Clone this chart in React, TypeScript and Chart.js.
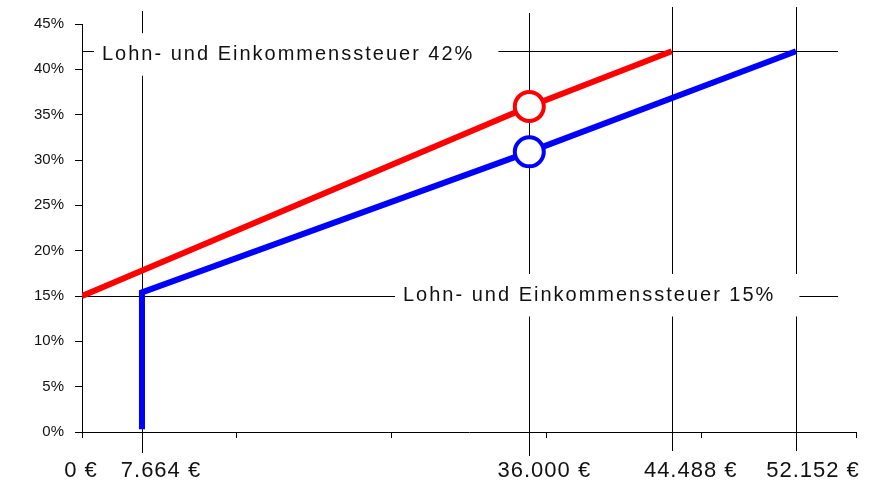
import React, { useEffect, useRef } from 'react';
import { Chart, registerables, LinearScale } from 'chart.js';

// ---- Data ----
const redIncome = [0, 36000, 44488];
const redRate = [15, 35.9, 42];

const blueIncome = [7664, 7664, 36000, 52152];
const blueRate = [0.3, 15.4, 30.9, 42];

const xLabelValues = [0, 7664, 36000, 44488, 52152];
const xLabelTexts = ['0 €', '7.664 €', '36.000 €', '44.488 €', '52.152 €'];

const guideIncome = [7664, 36000, 44488, 52152];

const rateLevels = [42, 15];
const rateLabels = ['Lohn- und Einkommenssteuer 42%', 'Lohn- und Einkommenssteuer 15%'];

const yMin = 0;
const yMax = 45;
const yStep = 5;

// ---- Axis layout (piecewise x-axis as in the original drawing) ----
const xBreakValues = [0, 7664, 36000, 44488, 52152, 56000];
const xBreakFractions = [0, 0.0775, 0.5779, 0.7619, 0.9225, 1];

function toFraction(v: number): number {
  const n = xBreakValues.length;
  let i = 0;
  while (i < n - 2 && v > xBreakValues[i + 1]) i++;
  const v0 = xBreakValues[i], v1 = xBreakValues[i + 1];
  const f0 = xBreakFractions[i], f1 = xBreakFractions[i + 1];
  return f0 + ((v - v0) / (v1 - v0)) * (f1 - f0);
}
function fromFraction(f: number): number {
  const n = xBreakFractions.length;
  let i = 0;
  while (i < n - 2 && f > xBreakFractions[i + 1]) i++;
  const v0 = xBreakValues[i], v1 = xBreakValues[i + 1];
  const f0 = xBreakFractions[i], f1 = xBreakFractions[i + 1];
  return v0 + ((f - f0) / (f1 - f0)) * (v1 - v0);
}

class PiecewiseScale extends LinearScale {
  static id = 'piecewise';
  static defaults = { ...(LinearScale as any).defaults };
  getPixelForValue(value: any) {
    if (value === null || value === undefined || isNaN(value)) return NaN;
    return (this as any).getPixelForDecimal(toFraction(value));
  }
  getValueForPixel(pixel: number) {
    return fromFraction((this as any).getDecimalForPixel(pixel));
  }
  buildTicks() {
    super.buildTicks();
    const count = 5;
    const ticks: any[] = [];
    for (let i = 0; i <= count; i++) ticks.push({ value: fromFraction(i / count) });
    return ticks;
  }
}

Chart.register(...registerables, PiecewiseScale as any);

const FONT = "'Liberation Sans', Arial, sans-serif";

const guideStyle = {
  tops: [11, 13, 7, 7],
  bottoms: [453, 456, 451, 451],
  hRightInset: 18,
  labelLeftOffsets: [20, 321],
  labelDy: [3, -1],
  xLabelOffsets: [-1, 19, 15, 19, 17],
  xLabelBaseline: 477,
};

const guidePlugin = {
  id: 'taxGuides',
  beforeDatasetsDraw(chart: any) {
    const { ctx, chartArea, scales } = chart;
    const x = scales.x, y = scales.y;
    ctx.save();
    ctx.strokeStyle = '#000';
    ctx.lineWidth = 1;
    guideIncome.forEach((v, i) => {
      const px = Math.round(x.getPixelForValue(v)) + 0.5;
      ctx.beginPath();
      ctx.moveTo(px, guideStyle.tops[i]);
      ctx.lineTo(px, guideStyle.bottoms[i]);
      ctx.stroke();
    });
    rateLevels.forEach((lvl) => {
      const py = Math.round(y.getPixelForValue(lvl)) + 0.5;
      ctx.beginPath();
      ctx.moveTo(chartArea.left, py);
      ctx.lineTo(chartArea.right - guideStyle.hRightInset, py);
      ctx.stroke();
    });
    ctx.restore();
  },
  afterDatasetsDraw(chart: any) {
    const { ctx, chartArea, scales } = chart;
    const x = scales.x, y = scales.y;
    ctx.save();
    ctx.font = `20px ${FONT}`;
    (ctx as any).letterSpacing = '2px';
    ctx.textBaseline = 'middle';
    ctx.textAlign = 'left';
    rateLevels.forEach((lvl, i) => {
      const cy = y.getPixelForValue(lvl) + guideStyle.labelDy[i];
      const left = chartArea.left + guideStyle.labelLeftOffsets[i];
      const w = ctx.measureText(rateLabels[i]).width;
      ctx.fillStyle = '#fff';
      ctx.fillRect(left - 8, cy - 21, w + 32, 42.5);
      ctx.fillStyle = '#111';
      ctx.fillText(rateLabels[i], left, cy);
    });
    ctx.font = `22px ${FONT}`;
    (ctx as any).letterSpacing = '1px';
    ctx.textAlign = 'center';
    ctx.textBaseline = 'alphabetic';
    ctx.fillStyle = '#111';
    xLabelValues.forEach((v, i) => {
      const px = x.getPixelForValue(v) + guideStyle.xLabelOffsets[i];
      ctx.fillText(xLabelTexts[i], px, guideStyle.xLabelBaseline);
    });
    ctx.restore();
  },
};

export default function App() {
  const canvasRef = useRef<HTMLCanvasElement | null>(null);

  useEffect(() => {
    const canvas = canvasRef.current;
    if (!canvas) return;
    const chart = new Chart(canvas, {
      type: 'line',
      data: {
        datasets: [
          {
            label: 'Tarif A',
            data: redIncome.map((v, i) => ({ x: v, y: redRate[i] })),
            borderColor: '#ff0000',
            borderWidth: 6,
            borderCapStyle: 'butt',
            borderJoinStyle: 'miter',
            tension: 0,
            fill: false,
            pointRadius: [0, 14.5, 0],
            pointBorderWidth: 4,
            pointBackgroundColor: '#ffffff',
            pointBorderColor: '#ff0000',
          },
          {
            label: 'Tarif B',
            data: blueIncome.map((v, i) => ({ x: v, y: blueRate[i] })),
            borderColor: '#0000ff',
            borderWidth: 6,
            borderCapStyle: 'butt',
            borderJoinStyle: 'miter',
            tension: 0,
            fill: false,
            pointRadius: [0, 0, 14.5, 0],
            pointBorderWidth: 4,
            pointBackgroundColor: '#ffffff',
            pointBorderColor: '#0000ff',
          },
        ],
      } as any,
      options: {
        animation: false,
        responsive: true,
        maintainAspectRatio: false,
        events: [],
        layout: { padding: { top: 24, right: 25, bottom: 0, left: 0 } },
        plugins: {
          legend: { display: false },
          tooltip: { enabled: false },
        },
        scales: {
          x: {
            type: 'piecewise',
            min: 0,
            max: xBreakValues[xBreakValues.length - 1],
            afterFit: (s: any) => {
              s.height = 52;
            },
            ticks: { display: false },
            grid: { drawOnChartArea: false, drawTicks: true, tickLength: 6, color: '#000' },
            border: { display: true, color: '#000', width: 1 },
          },
          y: {
            type: 'linear',
            min: yMin,
            max: yMax,
            afterFit: (s: any) => {
              s.width = 82;
            },
            ticks: {
              stepSize: yStep,
              callback: (v: any) => `${v}%`,
              font: { family: FONT, size: 15 },
              color: '#111',
              padding: 11,
            },
            grid: { drawOnChartArea: false, drawTicks: true, tickLength: 7, color: '#000' },
            border: { display: true, color: '#000', width: 1 },
          },
        } as any,
      },
      plugins: [guidePlugin as any],
    });
    return () => chart.destroy();
  }, []);

  return (
    <div style={{ position: 'fixed', left: 0, top: 0, width: 881, height: 484, background: '#fff' }}>
      <canvas ref={canvasRef} />
    </div>
  );
}
